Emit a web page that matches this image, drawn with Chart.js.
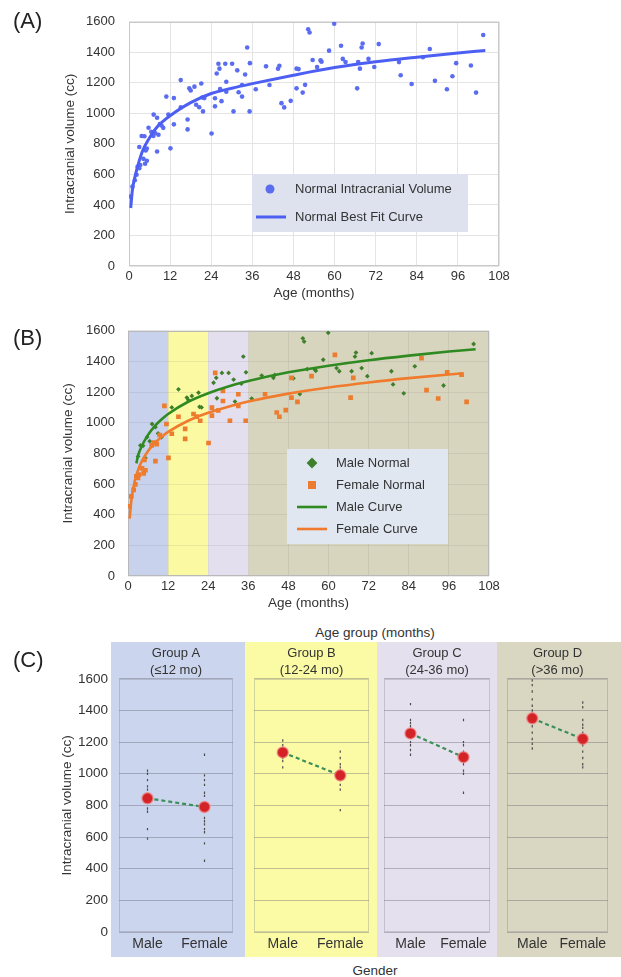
<!DOCTYPE html>
<html>
<head>
<meta charset="utf-8">
<script src="https://cdn.jsdelivr.net/npm/chart.js@4.4.1/dist/chart.umd.min.js"></script>
<style>
  body { margin: 0; width: 621px; height: 977px; position: relative; overflow: hidden; background: #fff;
         font-family: "Liberation Sans", Arial, sans-serif; color: #333; }
  canvas { position: absolute; }
  .lab { position: absolute; white-space: nowrap; line-height: 16px; font-size: 13.5px; }
  .panel { position: absolute; left: 13px; font-size: 22px; line-height: 22px; color: #222; }
  .mid { transform: translateX(-50%); }
</style>
</head>
<body>
<canvas id="chartA" width="621" height="310" style="left:0;top:0"></canvas>
<canvas id="chartB" width="621" height="305" style="left:0;top:310px"></canvas>
<canvas id="grpA" width="205" height="315" style="left:40px;top:642px"></canvas>
<canvas id="grpB" width="132" height="315" style="left:245px;top:642px"></canvas>
<canvas id="grpC" width="120" height="315" style="left:377px;top:642px"></canvas>
<canvas id="grpD" width="124" height="315" style="left:497px;top:642px"></canvas>

<div class="panel" style="top:10px">(A)</div>
<div class="panel" style="top:327px">(B)</div>
<div class="panel" style="top:649px">(C)</div>
<div class="lab mid" style="left:375px;top:625px">Age group (months)</div>
<div class="lab mid" style="left:375px;top:963px">Gender</div>

<script>
/* ─── Individual measurements (age in months, volume in cc) ─── */
const maleAges = [3.0, 3.7, 4.5, 5.2, 5.7, 6.5, 7.2, 8.2, 9.0, 10.0, 13.1, 15.1, 17.6, 18.0, 19.1, 21.1, 21.4, 22.0,
  25.6, 26.4, 26.6, 28.1, 30.1, 31.6, 32.0, 33.9, 34.5, 35.3, 37.0, 40.0, 43.5, 43.9, 49.5, 51.4, 52.3, 52.7,
  53.6, 55.9, 56.2, 58.4, 59.9, 62.4, 63.2, 66.9, 67.9, 68.2, 69.9, 71.6, 72.9, 78.8, 79.3, 82.5, 85.8, 94.4, 103.4];
const maleVolumes = [780, 852, 850, 770, 906, 880, 992, 971, 930, 905, 1100, 1218, 1164, 1150, 1175, 1196, 1104, 1100,
  1261, 1293, 1160, 1325, 1325, 1282, 1138, 1255, 1432, 1329, 1158, 1308, 1293, 1312, 1290, 1187, 1551, 1530,
  1350, 1347, 1339, 1411, 1587, 1357, 1336, 1336, 1432, 1458, 1357, 1304, 1454, 1336, 1250, 1192, 1368, 1243, 1514];

const femaleAges = [0.4, 1.0, 1.7, 2.2, 2.5, 3.0, 3.3, 4.2, 4.7, 4.9, 5.2, 7.1, 7.7, 8.2, 8.6, 9.5, 10.9, 11.5,
  12.1, 13.1, 15.1, 17.1, 17.1, 19.6, 20.5, 21.6, 24.1, 25.1, 25.1, 26.1, 27.0, 28.4, 28.4, 30.5, 33.0, 33.0,
  35.2, 41.0, 44.5, 45.3, 47.2, 48.9, 48.9, 50.7, 54.9, 61.9, 66.6, 67.4, 87.8, 89.3, 92.8, 95.5, 99.8, 101.3];
const femaleVolumes = [455, 520, 562, 598, 650, 640, 661, 702, 670, 757, 690, 852, 870, 750, 860, 920, 1110, 992,
  771, 928, 1039, 960, 895, 1057, 1040, 1013, 868, 1099, 1046, 1325, 1080, 1207, 1142, 1013, 1186, 1110,
  1013, 1186, 1067, 1039, 1082, 1164, 1293, 1136, 1304, 1443, 1164, 1293, 1422, 1213, 1158, 1329, 1314, 1136];

/* ─── Fitted curves ─── */
const fitAges = [0.5, 1, 2, 3, 4, 6, 8, 10, 12, 18, 24, 30, 36, 48, 60, 72, 84, 96, 104];
const fitAll = [380, 500, 608, 690, 756, 840, 906, 950, 985, 1070, 1130, 1165, 1195, 1250, 1300, 1338, 1368, 1395, 1412];

const maleFitAges = [2.5, 3, 4, 6, 8, 10, 12, 18, 24, 30, 36, 48, 60, 72, 84, 96, 104];
const maleFit = [735, 785, 842, 921, 978, 1021, 1057, 1137, 1193, 1237, 1272, 1329, 1372, 1408, 1438, 1465, 1480];

const femaleFitAges = [0.5, 1, 2, 3, 4, 6, 8, 10, 12, 18, 24, 30, 36, 48, 60, 72, 84, 96, 100];
const femaleFit = [375, 493, 618, 691, 743, 816, 867, 907, 940, 1013, 1065, 1105, 1138, 1190, 1230, 1263, 1291, 1315, 1322];

/* ─── Age groups ─── */
const ageEdges = [0, 12, 24, 36, 108];
const groupNames = ['Group A', 'Group B', 'Group C', 'Group D'];
const groupRanges = ['(\u226412 mo)', '(12-24 mo)', '(24-36 mo)', '(>36 mo)'];
const genders = ['Male', 'Female'];
const maleMeans = [845, 1135, 1255, 1350];
const femaleMeans = [790, 990, 1105, 1220];
const groupMaleValues = [
  [1020, 1000, 960, 920, 900, 870, 850, 820, 780, 760, 650, 590],
  [1210, 1180, 1160, 1120, 1100, 1080, 1040],
  [1440, 1340, 1320, 1300, 1280, 1260, 1240, 1200, 1180, 1150, 1120],
  [1590, 1560, 1520, 1470, 1430, 1400, 1380, 1330, 1300, 1260, 1220, 1190, 1160]
];
const groupFemaleValues = [
  [1120, 990, 960, 930, 880, 860, 780, 720, 700, 680, 650, 630, 560, 450],
  [1140, 1100, 1060, 1040, 1020, 1000, 960, 930, 900, 770],
  [1340, 1200, 1180, 1140, 1120, 1100, 1060, 1020, 1000, 880],
  [1450, 1420, 1340, 1310, 1290, 1260, 1230, 1200, 1180, 1140, 1100, 1060, 1040]
];

/* ─── Colours ─── */
const TXT = '#333';
const bandColorsB = ['#c8d2ec', '#fbfaa2', '#e4dfee', '#d8d5bf'];
const bandColorsC = ['#cbd5ee', '#fbfba6', '#e5e0ee', '#d9d6c1'];

const FONT = '"Liberation Sans", Arial, sans-serif';
Chart.defaults.font.family = FONT;
Chart.defaults.color = TXT;

const toXY = (xs, ys) => xs.map((x, i) => ({ x: x, y: ys[i] }));
const plain = v => String(v);

/* ─── Plugins ─── */
const bandFill = {
  id: 'bandFill',
  beforeDraw(chart, args, opts) {
    const { ctx, chartArea: a, scales } = chart;
    ctx.save();
    if (opts.edges && opts.colors) {
      for (let i = 0; i < opts.colors.length; i++) {
        const x0 = scales.x.getPixelForValue(opts.edges[i]);
        const x1 = scales.x.getPixelForValue(opts.edges[i + 1]);
        ctx.fillStyle = opts.colors[i];
        ctx.fillRect(x0, a.top, x1 - x0, a.bottom - a.top);
      }
    } else if (opts.color) {
      const left = opts.left || 0;
      ctx.fillStyle = opts.color;
      ctx.fillRect(left, 0, chart.width - left, chart.height);
    }
    ctx.restore();
  }
};

const frame = {
  id: 'frame',
  beforeDatasetsDraw(chart, args, opts) {
    if (!opts.color) return;
    const { ctx, chartArea: a } = chart;
    ctx.save();
    ctx.strokeStyle = opts.color;
    ctx.lineWidth = 1;
    ctx.strokeRect(Math.round(a.left) + 0.5, Math.round(a.top) + 0.5,
      Math.round(a.right - a.left) - 1, Math.round(a.bottom - a.top) - 1);
    ctx.restore();
  }
};

const boxLegend = {
  id: 'boxLegend',
  afterDatasetsDraw(chart, args, o) {
    if (!o.box) return;
    const ctx = chart.ctx;
    const b = o.box;
    ctx.save();
    ctx.fillStyle = o.background;
    ctx.fillRect(b.x, b.y, b.w, b.h);
    ctx.font = '13px ' + FONT;
    ctx.textBaseline = 'middle';
    chart.data.datasets.forEach(function (ds, i) {
      const y = o.firstRow + i * o.rowGap;
      if (ds.showLine) {
        ctx.strokeStyle = ds.borderColor;
        ctx.lineWidth = ds.borderWidth;
        ctx.beginPath();
        ctx.moveTo(o.lineFrom, y);
        ctx.lineTo(o.lineTo, y);
        ctx.stroke();
      } else {
        const r = o.marker, x = o.markerX;
        ctx.fillStyle = ds.backgroundColor;
        ctx.beginPath();
        if (ds.pointStyle === 'rect') {
          ctx.rect(x - r, y - r, 2 * r, 2 * r);
        } else if (ds.pointStyle === 'rectRot') {
          const d = r * 1.35;
          ctx.moveTo(x, y - d); ctx.lineTo(x + d, y); ctx.lineTo(x, y + d); ctx.lineTo(x - d, y);
          ctx.closePath();
        } else {
          ctx.arc(x, y, r, 0, Math.PI * 2);
        }
        ctx.fill();
      }
      ctx.fillStyle = TXT;
      ctx.fillText(ds.label, o.textX, y);
    });
    ctx.restore();
  }
};

Chart.register(bandFill, frame, boxLegend);

/* ─── Shared age/volume axes ─── */
function ageScales(gridColor, yWidth, yTitlePad, tickPad, titleBottom, xHeight) {
  return {
    x: {
      type: 'linear', min: 0, max: 108,
      ticks: { stepSize: 12, font: { size: 13 }, color: TXT, padding: 3, maxRotation: 0, callback: plain },
      grid: { color: gridColor, drawTicks: false },
      border: { display: false },
      title: { display: true, text: 'Age (months)', color: TXT, font: { size: 13.5 }, padding: { top: 0, bottom: titleBottom } },
      afterFit: function (s) { s.height = xHeight; }
    },
    y: {
      min: 0, max: 1600,
      ticks: { stepSize: 200, font: { size: 13 }, color: TXT, padding: tickPad, callback: plain },
      grid: { color: gridColor, drawTicks: false },
      border: { display: false },
      title: { display: true, text: 'Intracranial volume (cc)', color: TXT, font: { size: 13.5 }, padding: { top: yTitlePad, bottom: 0 } },
      afterFit: function (s) { s.width = yWidth; }
    }
  };
}

/* ─── (A) all subjects ─── */
new Chart(document.getElementById('chartA'), {
  type: 'scatter',
  data: {
    datasets: [{
      label: 'Normal Intracranial Volume',
      data: toXY(maleAges.concat(femaleAges), maleVolumes.concat(femaleVolumes)),
      backgroundColor: '#5a6cf0',
      pointStyle: 'circle',
      pointRadius: 2.3,
      borderWidth: 0,
      order: 1
    }, {
      label: 'Normal Best Fit Curve',
      data: toXY(fitAges, fitAll),
      showLine: true,
      borderColor: '#4c5ff2',
      borderWidth: 3,
      pointRadius: 0,
      cubicInterpolationMode: 'monotone',
      order: 0
    }]
  },
  options: {
    responsive: false,
    animation: false,
    layout: { padding: { left: 0, right: 122, top: 14, bottom: 4 } },
    scales: ageScales('#e4e4e4', 129, 62, 14, 5, 40),
    plugins: {
      legend: { display: false },
      tooltip: { enabled: false },
      frame: { color: '#c9c9c9' },
      boxLegend: {
        box: { x: 252, y: 174, w: 216, h: 58 },
        background: '#dde2ee',
        firstRow: 189, rowGap: 28,
        markerX: 270, marker: 4.5,
        lineFrom: 256, lineTo: 286,
        textX: 295
      }
    }
  }
});

/* ─── (B) by gender ─── */
new Chart(document.getElementById('chartB'), {
  type: 'scatter',
  data: {
    datasets: [{
      label: 'Male Normal',
      data: toXY(maleAges, maleVolumes),
      backgroundColor: '#3f7f2c',
      pointStyle: 'rectRot',
      pointRadius: 2.4,
      borderWidth: 0,
      order: 3
    }, {
      label: 'Female Normal',
      data: toXY(femaleAges, femaleVolumes),
      backgroundColor: '#ec7c30',
      pointStyle: 'rect',
      pointRadius: 3.3,
      borderWidth: 0,
      order: 2
    }, {
      label: 'Male Curve',
      data: toXY(maleFitAges, maleFit),
      showLine: true,
      borderColor: '#2f8a22',
      borderWidth: 2.6,
      pointRadius: 0,
      cubicInterpolationMode: 'monotone',
      order: 1
    }, {
      label: 'Female Curve',
      data: toXY(femaleFitAges, femaleFit),
      showLine: true,
      borderColor: '#f07b2c',
      borderWidth: 2.6,
      pointRadius: 0,
      cubicInterpolationMode: 'monotone',
      order: 0
    }]
  },
  options: {
    responsive: false,
    animation: false,
    layout: { padding: { left: 0, right: 132, top: 17, bottom: 0 } },
    scales: ageScales('rgba(110,110,110,0.13)', 128, 60, 13, 4, 39),
    plugins: {
      legend: { display: false },
      tooltip: { enabled: false },
      bandFill: { edges: ageEdges, colors: bandColorsB },
      frame: { color: '#b9b9b9' },
      boxLegend: {
        box: { x: 287, y: 139, w: 161, h: 95 },
        background: 'rgba(224,231,243,0.97)',
        firstRow: 153, rowGap: 22,
        markerX: 312, marker: 4,
        lineFrom: 297, lineTo: 327,
        textX: 336
      }
    }
  }
});

/* ─── (C) group means by gender ─── */
function groupChart(id, g, pad) {
  const first = g === 0;
  const individuals = groupMaleValues[g].map(v => ({ x: 'Male', y: v }))
    .concat(groupFemaleValues[g].map(v => ({ x: 'Female', y: v })));
  return new Chart(document.getElementById(id), {
    type: 'line',
    data: {
      labels: genders,
      datasets: [{
        label: 'Individual',
        data: individuals,
        showLine: false,
        pointStyle: 'line',
        rotation: 90,
        pointRadius: 1.2,
        borderColor: '#4a4a4a',
        borderWidth: 1.2,
        order: 1
      }, {
        label: 'Mean',
        data: [maleMeans[g], femaleMeans[g]],
        borderColor: '#3b8f58',
        borderDash: [4, 3],
        borderWidth: 2.2,
        pointRadius: 5.5,
        pointBackgroundColor: '#d42326',
        pointBorderColor: 'rgba(240,130,130,0.7)',
        pointBorderWidth: 1.5,
        order: 0
      }]
    },
    options: {
      responsive: false,
      animation: false,
      layout: { padding: { left: pad[0], right: pad[1], top: 0, bottom: 0 } },
      scales: {
        x: {
          type: 'category', offset: true,
          grid: { display: false, drawTicks: false },
          border: { display: false },
          ticks: { font: { size: 14 }, color: TXT, padding: 4, maxRotation: 0, minRotation: 0, autoSkip: false },
          afterFit: function (s) { s.height = 25; }
        },
        y: {
          min: 0, max: 1600,
          ticks: { display: first, stepSize: 200, font: { size: 13.5 }, color: TXT, padding: 11, callback: plain },
          grid: { color: 'rgba(95,95,105,0.38)', drawTicks: false },
          border: { display: false },
          title: { display: first, text: 'Intracranial volume (cc)', color: TXT, font: { size: 13.5 }, padding: { top: 19, bottom: 0 } },
          afterFit: function (s) { s.width = first ? 79 : 0; }
        }
      },
      plugins: {
        legend: { display: false },
        tooltip: { enabled: false },
        title: {
          display: true, fullSize: false,
          text: [groupNames[g], groupRanges[g]],
          color: TXT, font: { size: 13, weight: 'normal', lineHeight: 1.3 },
          padding: { top: 3, bottom: 0 }
        },
        bandFill: { color: bandColorsC[g], left: first ? 71 : 0 },
        frame: { color: 'rgba(120,120,130,0.3)' }
      }
    }
  });
}

groupChart('grpA', 0, [0, 12]);
groupChart('grpB', 1, [9, 8]);
groupChart('grpC', 2, [6, 7]);
groupChart('grpD', 3, [10, 13]);
</script>
</body>
</html>
